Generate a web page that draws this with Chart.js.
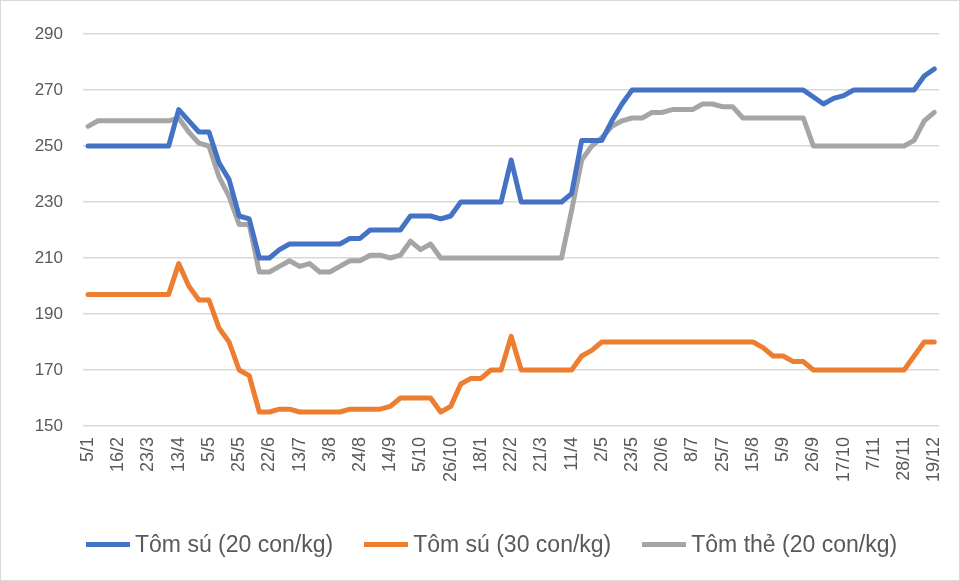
<!DOCTYPE html>
<html>
<head>
<meta charset="utf-8">
<script src="https://cdn.jsdelivr.net/npm/chart.js@4/dist/chart.umd.min.js"></script>
<style>
  html, body { margin: 0; padding: 0; background: #fff; }
  #frame { position: relative; width: 958px; height: 579px; border: 1px solid #d9d9d9; }
  #legend {
    position: absolute; top: 532px; left: 85px;
    display: flex; align-items: center; gap: 31px;
    font-family: 'Liberation Sans', Arial, sans-serif; font-size: 23px; line-height: 23px; color: #595959;
    white-space: nowrap;
  }
  .legend-item { display: flex; align-items: center; }
  .legend-line { display: inline-block; width: 44px; height: 5px; margin-right: 5px; }
</style>
</head>
<body>
<div id="frame">
  <canvas id="chart" width="958" height="579"></canvas>
  <div id="legend"></div>
</div>
<script>
'use strict';

const tickLabels = ['5/1', '16/2', '23/3', '13/4', '5/5', '25/5', '22/6', '13/7', '3/8', '24/8', '14/9', '5/10', '26/10', '18/1',
  '22/2', '21/3', '11/4', '2/5', '23/5', '20/6', '8/7', '25/7', '15/8', '5/9', '26/9', '17/10', '7/11', '28/11', '19/12'];

const seriesNames = ['Tôm sú (20 con/kg)', 'Tôm sú (30 con/kg)', 'Tôm thẻ (20 con/kg)'];
const seriesColors = ['#4472C4', '#ED7D31', '#A5A5A5'];

const tomSu20 = [
  250, 250, 250, 250, 250, 250, 250, 250, 250,
  263, 259, 255, 255, 244, 238, 225, 224, 210, 210,
  213, 215, 215, 215, 215, 215, 215, 217, 217, 220,
  220, 220, 220, 225, 225, 225, 224, 225, 230, 230,
  230, 230, 230, 245, 230, 230, 230, 230, 230, 233,
  252, 252, 252, 259, 265,
  270, 270, 270, 270, 270, 270, 270, 270, 270, 270, 270, 270, 270, 270, 270, 270, 270, 270,
  267.5, 265, 267, 268,
  270, 270, 270, 270, 270, 270, 270,
  275, 277.5,
];

const tomSu30 = [
  197, 197, 197, 197, 197, 197, 197, 197, 197,
  208, 200, 195, 195, 185, 180, 170, 168, 155, 155,
  156, 156, 155, 155, 155, 155, 155, 156, 156, 156,
  156, 157, 160, 160, 160, 160, 155, 157, 165, 167,
  167, 170, 170, 182, 170, 170, 170, 170, 170, 170,
  175, 177,
  180, 180, 180, 180, 180, 180, 180, 180, 180, 180, 180, 180, 180, 180, 180, 180,
  178, 175, 175, 173, 173,
  170, 170, 170, 170, 170, 170, 170, 170, 170, 170,
  175, 180, 180,
];

const tomThe20 = [
  257, 259, 259, 259, 259, 259, 259, 259, 259,
  260, 255, 251, 250, 239, 232, 222, 222, 205, 205,
  207, 209, 207, 208, 205, 205, 207, 209, 209, 211,
  211, 210, 211, 216, 213, 215, 210, 210, 210, 210,
  210, 210, 210, 210, 210, 210, 210, 210, 210, 227,
  245, 250, 253, 257, 259, 260, 260, 262, 262, 263,
  263, 263, 265, 265, 264, 264,
  260, 260, 260, 260, 260, 260, 260,
  250, 250, 250, 250, 250, 250, 250, 250, 250, 250,
  252, 259, 262,
];

const TICK_STEP = 3;
const categories = tomSu20.map((_, i) => (i % TICK_STEP === 0 ? tickLabels[i / TICK_STEP] : ''));

const FONT = "'Liberation Sans', Arial, sans-serif";
const TEXT = '#595959';

const datasets = [tomSu20, tomSu30, tomThe20].map((values, i) => ({
  label: seriesNames[i],
  data: values,
  borderColor: seriesColors[i],
  backgroundColor: seriesColors[i],
  borderWidth: 5,
  pointRadius: 0,
  tension: 0,
  borderCapStyle: 'round',
  borderJoinStyle: 'round',
}));

new Chart(document.getElementById('chart'), {
  type: 'line',
  data: { labels: categories, datasets },
  options: {
    responsive: false,
    animation: false,
    layout: { padding: { top: 33, right: 18, bottom: 56, left: 0 } },
    plugins: {
      tooltip: { enabled: false },
      legend: { display: false },
    },
    scales: {
      x: {
        offset: true,
        grid: { display: false },
        border: { display: false },
        afterFit: scale => { scale.height = 98; },
        ticks: {
          autoSkip: false,
          minRotation: 90,
          maxRotation: 90,
          padding: 3,
          color: TEXT,
          font: { family: FONT, size: 18 },
        },
      },
      y: {
        min: 150,
        max: 290,
        afterFit: scale => { scale.width = 82; },
        grid: { color: '#d9d9d9', lineWidth: 1.5, drawTicks: false },
        border: { display: false },
        ticks: {
          stepSize: 20,
          padding: 20,
          color: TEXT,
          font: { family: FONT, size: 17 },
        },
      },
    },
  },
});

// legend drawn as html so spacing can follow the original
document.getElementById('legend').innerHTML = seriesNames.map((name, i) => `
  <span class="legend-item"><span class="legend-line" style="background:${seriesColors[i]};"></span>${name}</span>`).join('');
</script>
</body>
</html>
